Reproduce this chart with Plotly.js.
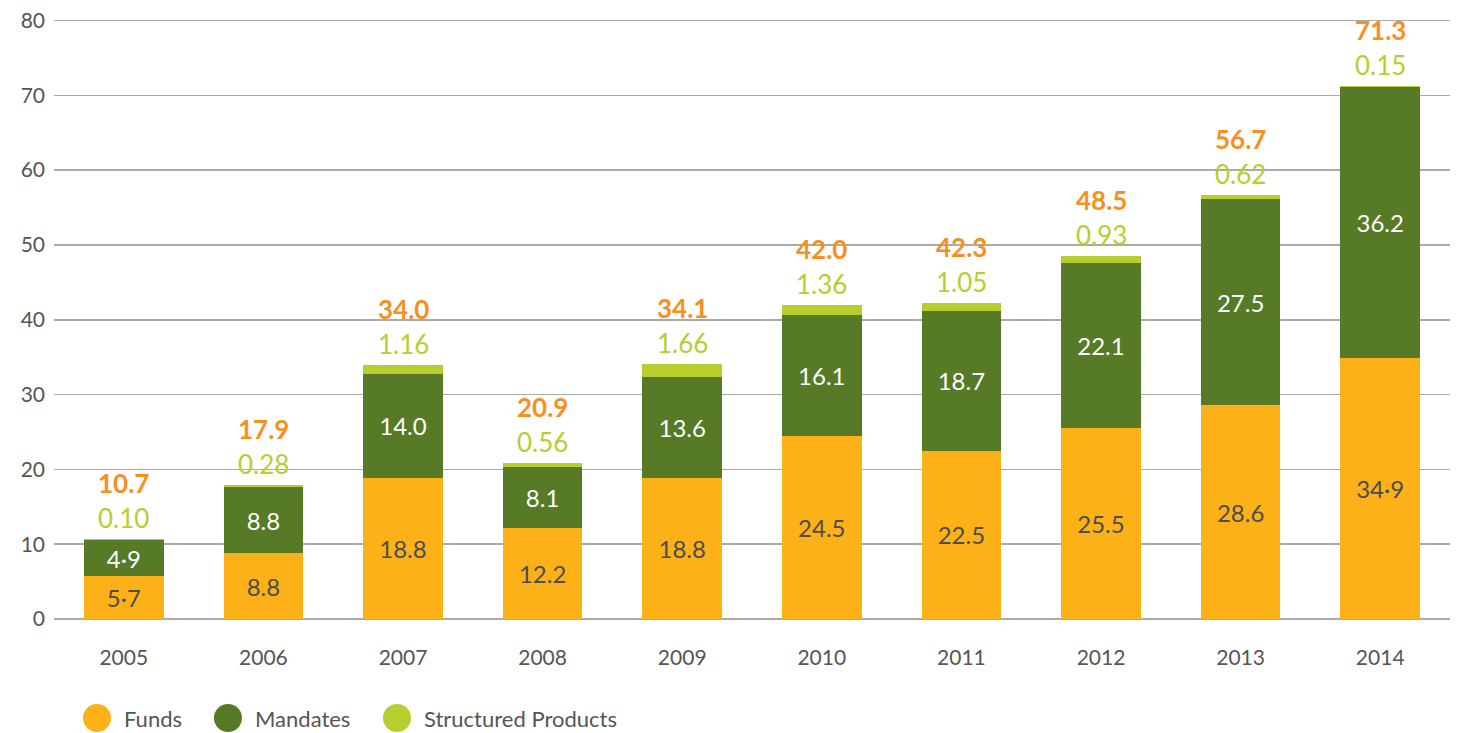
<!DOCTYPE html>
<html><head><meta charset="utf-8">
<script src="https://cdn.plot.ly/plotly-3.0.1.min.js"></script>
<style>html,body{margin:0;padding:0;background:#fff}#chart{width:1468px;height:733px}</style>
</head><body><div id="chart"></div>
<script>
const years = ['2005','2006','2007','2008','2009','2010','2011','2012','2013','2014'];
const funds = [5.7, 8.8, 18.8, 12.2, 18.8, 24.5, 22.5, 25.5, 28.6, 34.9];
const mandates = [4.9, 8.8, 14.0, 8.1, 13.6, 16.1, 18.7, 22.1, 27.5, 36.2];
const structured = [0.10, 0.28, 1.16, 0.56, 1.66, 1.36, 1.05, 0.93, 0.62, 0.15];
const totals = [10.7, 17.9, 34.0, 20.9, 34.1, 42.0, 42.3, 48.5, 56.7, 71.3];
const fundsLabels = ['5·7','8.8','18.8','12.2','18.8','24.5','22.5','25.5','28.6','34·9'];
const mandatesLabels = ['4·9','8.8','14.0','8.1','13.6','16.1','18.7','22.1','27.5','36.2'];
const structuredLabels = ['0.10','0.28','1.16','0.56','1.66','1.36','1.05','0.93','0.62','0.15'];
const totalLabels = ['10.7','17.9','34.0','20.9','34.1','42.0','42.3','48.5','56.7','71.3'];
const seriesNames = ['Funds','Mandates','Structured Products'];

const C_F = '#FBB117', C_M = '#567A26', C_S = '#B6CE2E', C_T = '#F7901E';
const FONT = 'Lato, "Open Sans", sans-serif';

const traces = [
  {type:'bar', x:years, y:funds, name:seriesNames[0], marker:{color:C_F}, text:fundsLabels,
   textposition:'inside', insidetextanchor:'middle', textfont:{color:'#4d4d4d', size:24, family:FONT},
   hoverinfo:'x+y'},
  {type:'bar', x:years, y:mandates, name:seriesNames[1], marker:{color:C_M}, text:mandatesLabels,
   textposition:'inside', insidetextanchor:'middle', textfont:{color:'#ffffff', size:24, family:FONT},
   hoverinfo:'x+y'},
  {type:'bar', x:years, y:structured, name:seriesNames[2], marker:{color:C_S},
   textposition:'none', hoverinfo:'x+y'}
];

const annotations = [];
years.forEach((yr, i) => {
  annotations.push({x:i, y:totals[i], xref:'x', yref:'y', text:structuredLabels[i], showarrow:false,
    yanchor:'middle', yshift:21, font:{color:C_S, size:26, family:FONT}});
  annotations.push({x:i, y:totals[i], xref:'x', yref:'y', text:'<b>'+totalLabels[i]+'</b>', showarrow:false,
    yanchor:'middle', yshift:56, font:{color:C_T, size:26, family:FONT}});
});

// custom legend (large circles)
const legendColors = [C_F, C_M, C_S];
const legendCx = [97, 228, 397];
const plotL = 54, plotW = 1396, plotB = 619, plotH = 600;
const legY = (plotB - 718) / plotH;
const shapes = [];
seriesNames.forEach((nm, i) => {
  const xp = (legendCx[i] - plotL) / plotW;
  shapes.push({type:'circle', xref:'paper', yref:'paper', xsizemode:'pixel', ysizemode:'pixel',
    xanchor:xp, yanchor:legY, x0:-14, x1:14, y0:-14, y1:14, fillcolor:legendColors[i], line:{width:0}});
  annotations.push({xref:'paper', yref:'paper', x:(legendCx[i] + 25 - plotL) / plotW, y:legY,
    xanchor:'left', yanchor:'middle', text:nm, showarrow:false, font:{size:22, color:'#555', family:FONT}});
});

const layout = {
  width:1468, height:733,
  margin:{l:54, r:18, t:19, b:114},
  barmode:'stack', bargap:0.43,
  paper_bgcolor:'#fff', plot_bgcolor:'#fff',
  font:{family:FONT, color:'#555', size:20},
  showlegend:false,
  xaxis:{type:'category', categoryorder:'array', categoryarray:years, range:[-0.5, 9.5],
    showgrid:false, zeroline:false, showline:false, ticks:'',
    ticklabelstandoff:24, tickfont:{size:21, color:'#555'}},
  yaxis:{range:[0,80.2], tickvals:[0,10,20,30,40,50,60,70,80], showgrid:true, gridcolor:'#aaaaaa', gridwidth:1.5,
    zeroline:true, zerolinecolor:'#aaaaaa', zerolinewidth:1.5, showline:false, ticks:'',
    ticklabelstandoff:8, tickfont:{size:21, color:'#555'}},
  annotations:annotations,
  shapes:shapes
};

Plotly.newPlot('chart', traces, layout, {displayModeBar:false, staticPlot:true});
</script></body></html>
